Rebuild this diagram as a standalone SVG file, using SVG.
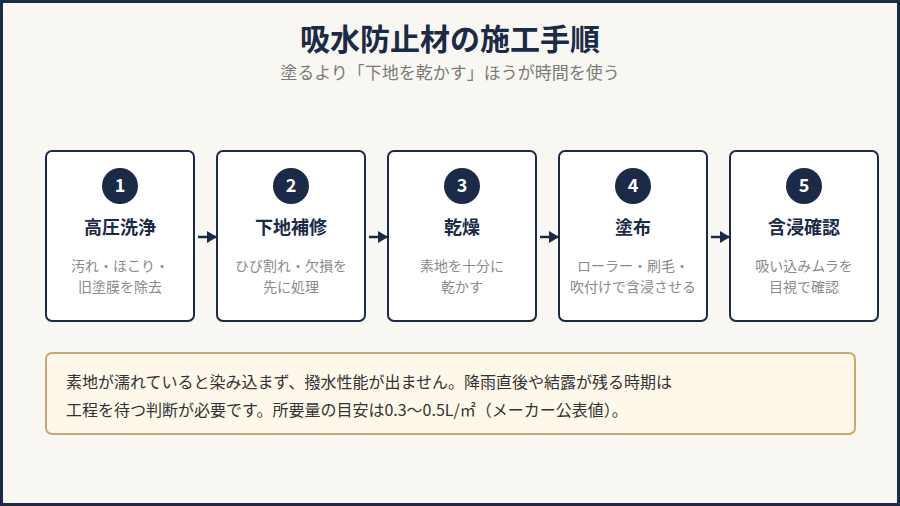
<svg xmlns="http://www.w3.org/2000/svg" width="900" height="506" viewBox="0 0 900 506">
<defs>
<style>
text{font-family:"Noto Sans CJK JP","Noto Sans",sans-serif;}
.card{fill:#ffffff;stroke:#1b2a47;stroke-width:2;}
.num{fill:#1b2a47;}
.numt{fill:#ffffff;font-size:18px;font-weight:700;text-anchor:middle;}
.ttl{fill:#1b2a47;font-size:18px;font-weight:700;text-anchor:middle;}
.desc{fill:#8a8a8a;font-size:14px;text-anchor:middle;}
.conn{stroke:#1b2a47;stroke-width:2.5;fill:none;}
.note{fill:#333333;font-size:16px;}
</style>
<marker id="ah" markerWidth="10" markerHeight="12" refX="9" refY="6" orient="auto" markerUnits="userSpaceOnUse">
<path d="M0,0 L10,6 L0,12 Z" fill="#1b2a47"/>
</marker>
</defs>
<rect x="1.5" y="1.5" width="897" height="503" fill="#f9f7f1" stroke="#1b2a47" stroke-width="3"/>
<text x="450" y="50" text-anchor="middle" font-size="30" font-weight="700" fill="#1b2a47">吸水防止材の施工手順</text>
<text x="450" y="79" text-anchor="middle" font-size="17" fill="#7a7a7a">塗るより「下地を乾かす」ほうが時間を使う</text>
<g id="connectors">
<line class="conn" x1="198" y1="237" x2="216" y2="237" marker-end="url(#ah)"/>
<line class="conn" x1="369" y1="237" x2="387" y2="237" marker-end="url(#ah)"/>
<line class="conn" x1="540" y1="237" x2="558" y2="237" marker-end="url(#ah)"/>
<line class="conn" x1="711" y1="237" x2="729" y2="237" marker-end="url(#ah)"/>
</g>
<g id="step1">
<rect class="card" x="46" y="151" width="148" height="170" rx="6"/>
<circle class="num" cx="120" cy="186" r="18"/>
<text class="numt" x="120" y="192">1</text>
<text class="ttl" x="120" y="234">高圧洗浄</text>
<text class="desc" x="120" y="271">汚れ・ほこり・</text>
<text class="desc" x="120" y="292">旧塗膜を除去</text>
</g>
<g id="step2">
<rect class="card" x="217" y="151" width="148" height="170" rx="6"/>
<circle class="num" cx="291" cy="186" r="18"/>
<text class="numt" x="291" y="192">2</text>
<text class="ttl" x="291" y="234">下地補修</text>
<text class="desc" x="291" y="271">ひび割れ・欠損を</text>
<text class="desc" x="291" y="292">先に処理</text>
</g>
<g id="step3">
<rect class="card" x="388" y="151" width="148" height="170" rx="6"/>
<circle class="num" cx="462" cy="186" r="18"/>
<text class="numt" x="462" y="192">3</text>
<text class="ttl" x="462" y="234">乾燥</text>
<text class="desc" x="462" y="271">素地を十分に</text>
<text class="desc" x="462" y="292">乾かす</text>
</g>
<g id="step4">
<rect class="card" x="559" y="151" width="148" height="170" rx="6"/>
<circle class="num" cx="633" cy="186" r="18"/>
<text class="numt" x="633" y="192">4</text>
<text class="ttl" x="633" y="234">塗布</text>
<text class="desc" x="633" y="271">ローラー・刷毛・</text>
<text class="desc" x="633" y="292">吹付けで含浸させる</text>
</g>
<g id="step5">
<rect class="card" x="730" y="151" width="148" height="170" rx="6"/>
<circle class="num" cx="804" cy="186" r="18"/>
<text class="numt" x="804" y="192">5</text>
<text class="ttl" x="804" y="234">含浸確認</text>
<text class="desc" x="804" y="271">吸い込みムラを</text>
<text class="desc" x="804" y="292">目視で確認</text>
</g>
<g id="note">
<rect x="46" y="353" width="809" height="81" rx="6" fill="#fdf8ea" stroke="#c8a96b" stroke-width="2"/>
<text class="note" x="66" y="388">素地が濡れていると染み込まず、撥水性能が出ません。降雨直後や結露が残る時期は</text>
<text class="note" x="66" y="416">工程を待つ判断が必要です。所要量の目安は0.3〜0.5L/㎡（メーカー公表値）。</text>
</g>
</svg>
